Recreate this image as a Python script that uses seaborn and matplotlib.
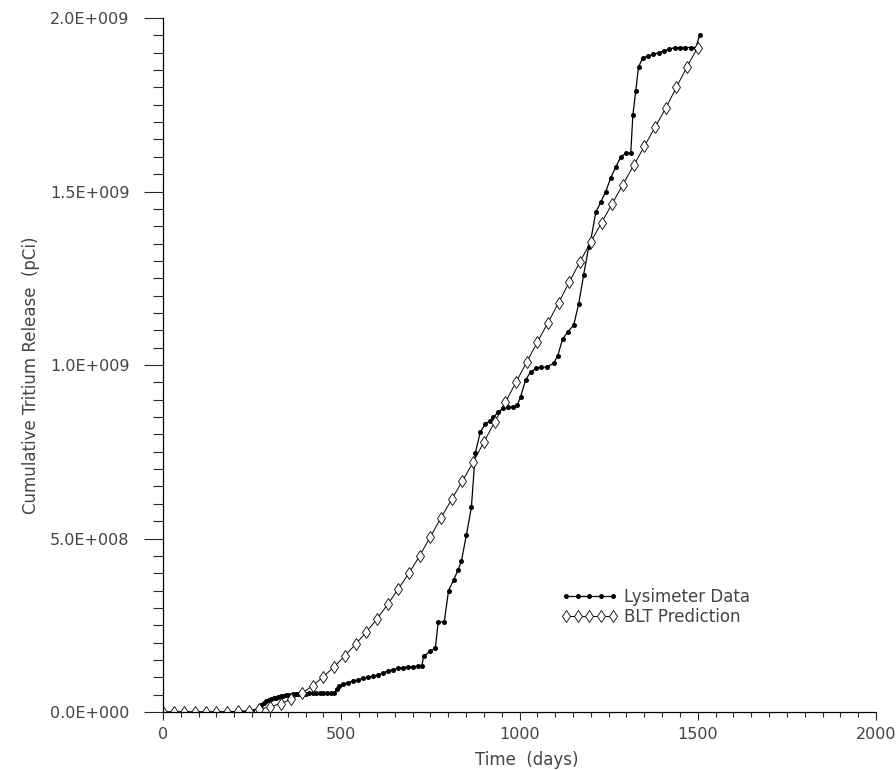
import numpy as np
import pandas as pd
import matplotlib
matplotlib.use('Agg')
import matplotlib.pyplot as plt
import matplotlib.ticker as mticker
import seaborn as sns

# BLT prediction, every 30 days (release in units of 1E+009 pCi)
blt_days = list(range(0, 1501, 30))
blt_release = [0, 0, 0, 0, 0, 0, 0.001, 0.002, 0.004, 0.008,
               0.015, 0.024, 0.037, 0.054, 0.076, 0.102, 0.13, 0.162, 0.195, 0.23,
               0.268, 0.31, 0.355, 0.40, 0.45, 0.505, 0.56, 0.613, 0.666, 0.72,
               0.778, 0.835, 0.892, 0.95, 1.008, 1.066, 1.122, 1.18, 1.24, 1.298,
               1.355, 1.41, 1.465, 1.52, 1.575, 1.63, 1.685, 1.74, 1.80, 1.86,
               1.915]

# Lysimeter measurements (release in units of 1E+009 pCi)
lys_days = [0, 216, 250, 268, 275, 282, 289, 296, 303, 310, 317, 324, 331, 338, 345,
            352, 359, 366, 373, 380, 390, 400, 410, 420, 430, 440, 450, 460, 470, 480,
            488, 495, 505, 518, 532, 546, 560, 574, 588, 602, 616, 630, 644, 658, 672,
            686, 700, 714, 726, 731, 750, 764, 772, 789, 801, 815, 828, 837, 851, 865,
            876, 890, 904, 918, 927, 941, 955, 969, 983, 994, 1003, 1017, 1031, 1045,
            1059, 1078, 1096, 1107, 1121, 1135, 1152, 1166, 1180, 1194, 1200, 1214,
            1228, 1242, 1256, 1270, 1284, 1298, 1312, 1318, 1326, 1334, 1346, 1360,
            1375, 1390, 1405, 1420, 1435, 1450, 1465, 1480, 1495, 1505]
lys_release = [0, 0.0, 0.003, 0.012, 0.02, 0.027, 0.031, 0.034, 0.037, 0.039, 0.041,
               0.043, 0.045, 0.046, 0.048, 0.049, 0.05, 0.051, 0.052, 0.052, 0.053,
               0.053, 0.054, 0.054, 0.054, 0.054, 0.054, 0.054, 0.054, 0.055, 0.066,
               0.074, 0.08, 0.085, 0.089, 0.093, 0.097, 0.1, 0.103, 0.107, 0.112,
               0.118, 0.122, 0.126, 0.128, 0.13, 0.131, 0.132, 0.133, 0.16, 0.176,
               0.184, 0.26, 0.26, 0.35, 0.38, 0.41, 0.435, 0.51, 0.59, 0.746, 0.807,
               0.83, 0.84, 0.85, 0.865, 0.876, 0.879, 0.879, 0.885, 0.908, 0.957,
               0.98, 0.99, 0.994, 0.994, 1.006, 1.026, 1.075, 1.095, 1.115, 1.176,
               1.26, 1.34, 1.36, 1.44, 1.47, 1.50, 1.54, 1.57, 1.60, 1.61, 1.61, 1.72,
               1.79, 1.86, 1.885, 1.89, 1.895, 1.90, 1.905, 1.91, 1.915, 1.915, 1.915,
               1.915, 1.915, 1.95]

blt = pd.DataFrame({'days': blt_days, 'release': np.array(blt_release) * 1e9})
lys = pd.DataFrame({'days': lys_days, 'release': np.array(lys_release) * 1e9})

sns.set_style('ticks')
plt.rcParams['font.family'] = ['DejaVu Sans']
text_color = '#444444'

fig = plt.figure(figsize=(8.96, 7.70), dpi=100)
ax = fig.add_axes([0.1819, 0.0753, 0.7958, 0.9013])

sns.lineplot(data=lys, x='days', y='release', ax=ax, color='black', lw=0.9,
             marker='o', markersize=3.6, markeredgewidth=0, estimator=None,
             label='Lysimeter Data')
sns.lineplot(data=blt, x='days', y='release', ax=ax, color='black', lw=0.7,
             marker='d', markersize=6, markerfacecolor='white',
             markeredgecolor='black', markeredgewidth=0.6, estimator=None,
             label='BLT Prediction')

ax.set_xlim(0, 2000)
ax.set_ylim(0, 2.0e9)
ax.xaxis.set_major_locator(mticker.MultipleLocator(500))
ax.xaxis.set_minor_locator(mticker.MultipleLocator(50))
ax.yaxis.set_major_locator(mticker.MultipleLocator(5e8))
ax.yaxis.set_minor_locator(mticker.MultipleLocator(5e7))


def sci_fmt(v, pos):
    if v == 0:
        return '0.0E+000'
    exp = int(np.floor(np.log10(abs(v))))
    return f'{v / 10 ** exp:.1f}E+{exp:03d}'


ax.yaxis.set_major_formatter(mticker.FuncFormatter(sci_fmt))

sns.despine(ax=ax)
for side in ['left', 'bottom']:
    ax.spines[side].set_linewidth(0.9)
    ax.spines[side].set_color('black')

ax.tick_params(axis='x', which='major', direction='out', length=5.5, width=0.8,
               labelsize=11.5, labelcolor=text_color, pad=5)
ax.tick_params(axis='x', which='minor', direction='out', length=3.5, width=0.8)
ax.tick_params(axis='y', which='major', direction='out', length=14, width=0.8,
               labelsize=11.5, labelcolor=text_color, pad=10)
ax.tick_params(axis='y', which='minor', direction='out', length=7, width=0.8)

ax.set_xlabel('Time  (days)', fontsize=12, color=text_color)
ax.xaxis.set_label_coords(0.51, -0.056)
ax.set_ylabel('Cumulative Tritium Release  (pCi)', fontsize=12, color=text_color)
ax.yaxis.set_label_coords(-0.172, 0.485)

leg = ax.legend(loc='upper left', bbox_to_anchor=(0.537, 0.2), frameon=False,
                numpoints=5, handlelength=3.4, handletextpad=0.4,
                labelspacing=0.1, fontsize=12)
for t in leg.get_texts():
    t.set_color(text_color)

plt.savefig('out.png', dpi=100)
plt.close()
